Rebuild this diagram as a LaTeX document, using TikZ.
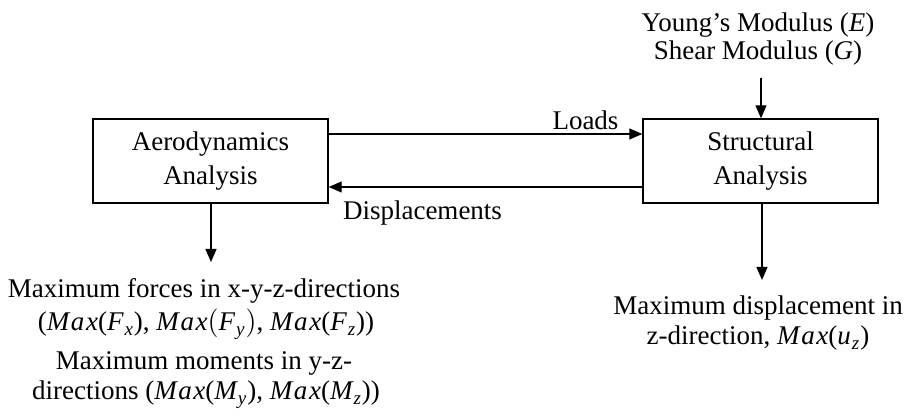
\documentclass[tikz,border=0pt]{standalone}
\usepackage{fontspec}
\setmainfont{Liberation Serif}
\newfontface\mathitface{Liberation Serif Italic}[LetterSpace=6]
\usetikzlibrary{arrows.meta}
\newcommand{\mv}[1]{{\mathitface #1}}
\newcommand{\msb}[1]{\kern0.5pt\raisebox{-2.5pt}{\fontsize{9.5}{10}\mathitface #1}\kern0.5pt}
\begin{document}
\begin{tikzpicture}[x=0.5pt,y=-0.5pt,
  font=\fontsize{13.5}{15}\selectfont,
  box/.style={draw, line width=0.7pt, minimum width=117.5pt, minimum height=42pt, align=center, inner sep=0pt},
  arr/.style={-{Triangle[length=6.5pt,width=5.5pt]}, line width=0.6pt},
  txt/.style={anchor=base, inner sep=0pt}]
\useasboundingbox (0,0) rectangle (912,416);
\node[box] (aero) at (210.5,161) {Aerodynamics\\[2pt]Analysis};
\node[box] (struct) at (760.5,161) {Structural\\[2pt]Analysis};

\coordinate (loadrow) at (0,134);
\coordinate (disprow) at (0,187);
\draw[arr] (aero.east |- loadrow) -- (struct.west |- loadrow);
\draw[arr] (struct.west |- disprow) -- (aero.east |- disprow);
\node[txt] (loads) at (585.5,130) {Loads};
\node[txt] (disp) at (422.5,220) {Displacements};

\node[txt] (mod1) at (758,32) {Young’s Modulus (\mv{E})};
\node[txt] (mod2) at (758,60) {Shear Modulus (\mv{G})};
\coordinate (modout) at (761,78);
\draw[arr] (modout) -- (modout |- struct.north);

\coordinate (aeroend) at (211,262);
\draw[arr] (aeroend |- aero.south) -- (aeroend);
\node[txt] (af1) at (204,298) {Maximum forces in x-y-z-directions};
\node[txt] (af2) at (206,331) {(\mv{Max}(\mv{F}\msb{x}), \mv{Max}\big(\mv{F}\msb{y}\big), \mv{Max}(\mv{F}\msb{z}))};
\node[txt] (af3) at (204,370) {Maximum moments in y-z-};
\node[txt] (af4) at (206,400) {directions (\mv{Max}(\mv{M}\msb{y}), \mv{Max}(\mv{M}\msb{z}))};

\coordinate (structend) at (762,280);
\draw[arr] (structend |- struct.south) -- (structend);
\node[txt] (sd1) at (758,315) {Maximum displacement in};
\node[txt] (sd2) at (758,345) {z-direction, \mv{Max}(\mv{u}\msb{z})};
\end{tikzpicture}
\end{document}
